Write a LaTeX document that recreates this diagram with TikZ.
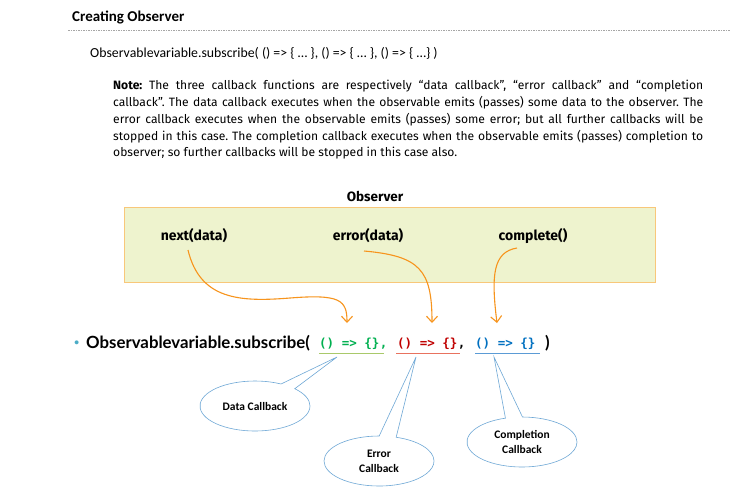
\documentclass[tikz,border=0pt]{standalone}
\usepackage{fontspec}
\usetikzlibrary{shapes.callouts,arrows.meta,calc}
\newfontfamily\fira{Fira Sans}
\newfontfamily\carl{Carlito}
\newfontfamily\latof{Lato}
\newfontfamily\cmono{DejaVu Sans Mono}
\definecolor{boxfill}{HTML}{EEF3CE}
\definecolor{boxline}{HTML}{F8C77A}
\definecolor{arrorange}{HTML}{F7941D}
\definecolor{cgreen}{HTML}{00B050}
\definecolor{cred}{HTML}{C00000}
\definecolor{cblue}{HTML}{0070C0}
\definecolor{ugreen}{HTML}{A9C96A}
\definecolor{ured}{HTML}{E8725E}
\definecolor{ublue}{HTML}{5B9BD5}
\definecolor{callline}{HTML}{6FA8D6}
\definecolor{bullet}{HTML}{4BACC6}
\tikzset{
  lbl/.style={font=\fira\bfseries\fontsize{14}{16}\selectfont, inner sep=1pt},
  fun/.style={font=\cmono\bfseries\fontsize{12.5}{14}\selectfont, inner sep=0pt, anchor=base west},
  orarrow/.style={draw=arrorange, line width=1.1pt, -{Straight Barb[length=6pt,width=11pt,line width=1.1pt]}},
  callbub/.style={ellipse callout, draw=callline, line width=0.6pt, fill=white, minimum width=110pt, minimum height=50pt, inner sep=0pt, callout pointer arc=18, align=center, font=\carl\bfseries\fontsize{11.5}{15}\selectfont},
  uline/.style={line width=1pt}
}
\begin{document}
\frenchspacing
\begin{tikzpicture}[x=1pt,y=-1pt]
\useasboundingbox[fill=white] (0,0) rectangle (743,491);
% heading
\node[anchor=base west, inner sep=0pt, font=\carl\bfseries\fontsize{15}{17}\selectfont] (title) at (72,21) {Creating Observer};
\coordinate (hl) at (68,30);
\coordinate (hr) at (730,30);
\draw[gray!70, line width=0.5pt, dash pattern=on 1.5pt off 1pt] (hl) -- (hr);
\node[anchor=base west, inner sep=0pt, font=\carl\fontsize{13.8}{15}\selectfont] (code) at (90,57) {Observablevariable.subscribe( () => \{ \dots\ \}, () => \{ \dots\ \}, () => \{ \dots\} )};
% note
\node[anchor=north west, inner sep=0pt, text width=590pt, align=justify, font=\fira\fontsize{12.1}{16.8}\selectfont] (note) at (113,80)
{\textbf{Note:} The three callback functions are respectively “data callback”, “error callback” and “completion\linebreak
callback”. The data callback executes when the observable emits (passes) some data to the observer. The\linebreak
error callback executes when the observable emits (passes) some error; but all further callbacks will be\linebreak
stopped in this case. The completion callback executes when the observable emits (passes) completion to\linebreak
observer; so further callbacks will be stopped in this case also.};
% observer box
\node[font=\fira\bfseries\fontsize{13.5}{15}\selectfont, inner sep=0pt] (obs) at (375,196) {Observer};
\node[draw=boxline, fill=boxfill, line width=1pt, minimum width=531pt, minimum height=75pt, inner sep=0pt] (box) at (389.5,244.5) {};
\node[lbl] (nd) at (194,236) {next(data)};
\node[lbl] (ed) at (368,236) {error(data)};
\node[lbl] (cd) at (533,236) {complete()};
% subscribe line
\node[anchor=base west, inner sep=0pt, text=bullet, font=\latof\bfseries\fontsize{9}{10}\selectfont] (bul) at (74,345) {•};
\node[anchor=base west, inner sep=0pt, font=\latof\bfseries\fontsize{16.8}{18}\selectfont] (sub) at (86,348) {Observablevariable.subscribe(};
\node[fun, text=cgreen] (gf) at (319,347) {() => \{\}};
\node[fun, text=cgreen, anchor=base west] (gc) at (gf.base east) {,};
\node[fun, text=cred] (rf) at (397,347) {() => \{\}};
\node[fun, text=black, anchor=base west] (rc) at (rf.base east) {,};
\node[fun, text=cblue] (bf) at (475,347) {() => \{\}};
\node[fun, text=black, font=\latof\bfseries\fontsize{16.8}{18}\selectfont] (cp) at (545,348) {)};
\draw[uline, ugreen] ([yshift=-6pt]gf.base west) -- ([yshift=-6pt,xshift=4pt]gf.base east);
\draw[uline, ured] ([yshift=-6pt,xshift=-1pt]rf.base west) -- ([yshift=-6pt,xshift=2pt]rf.base east);
\draw[uline, ublue] ([yshift=-6pt]bf.base west) -- ([yshift=-6pt,xshift=4pt]bf.base east);
% orange arrows
\coordinate (a1) at (188,250);
\coordinate (a2) at (364,251);
\coordinate (a3) at (517,248);
\coordinate (t1) at (347,323);
\coordinate (t2) at (432,323);
\coordinate (t3) at (497,323);
\draw[orarrow] (a1) .. controls (200,300) and (240,302) .. (290,298) .. controls (340,294) and (347,300) .. (t1);
\draw[orarrow] (a2) .. controls (420,256) and (432,270) .. (t2);
\draw[orarrow] (a3) .. controls (493,252) and (491,275) .. (t3);
% callouts
\coordinate (p1) at (337,357);
\coordinate (p2) at (416,357);
\coordinate (p3) at (494,357);
\node[callbub, callout absolute pointer={(p1)}] (dc) at (255,406) {Data Callback};
\node[callbub, callout absolute pointer={(p2)}] (ec) at (379,461) {Error\\Callback};
\node[callbub, callout absolute pointer={(p3)}] (cc) at (522,442) {Completion\\Callback};
\end{tikzpicture}
\end{document}
